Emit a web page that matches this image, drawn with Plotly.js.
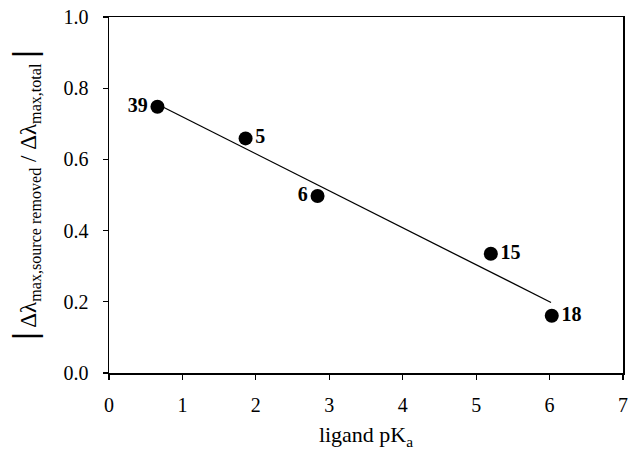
<!DOCTYPE html>
<html>
<head>
<meta charset="utf-8">
<script src="https://cdn.plot.ly/plotly-3.0.1.min.js"></script>
<style>html,body{margin:0;padding:0;background:#fff;}#chart{width:629px;height:458px;}</style>
</head>
<body>
<div id="chart"></div>
<script>
// Data
const pKa = [0.66, 1.86, 2.84, 5.20, 6.03];
const ratio = [0.748, 0.659, 0.497, 0.335, 0.161];
const pointLabels = ['39', '5', '6', '15', '18'];
const labelPos = ['middle left', 'middle right', 'middle left', 'middle right', 'middle right'];
const fitX = [0.66, 6.02];
const fitY = [0.755, 0.198];
const xTicks = [0, 1, 2, 3, 4, 5, 6, 7];
const yTicks = [0.0, 0.2, 0.4, 0.6, 0.8, 1.0];

const serif = 'Liberation Serif, Times New Roman, serif';

const traces = [
  {
    x: fitX, y: fitY, mode: 'lines', type: 'scatter',
    line: {color: '#000', width: 1.3}, hoverinfo: 'skip', showlegend: false
  },
  {
    x: pKa, y: ratio, mode: 'markers+text', type: 'scatter',
    text: pointLabels.map(t => '<b>' + t + '</b>'),
    textposition: labelPos,
    textfont: {family: serif, size: 20, color: '#000'},
    marker: {color: '#000', size: 14},
    showlegend: false
  }
];

const layout = {
  width: 629, height: 458,
  margin: {l: 109, r: 6, t: 17, b: 85},
  paper_bgcolor: '#fff', plot_bgcolor: '#fff',
  font: {family: serif, color: '#000'},
  xaxis: {
    range: [0, 7], tickvals: xTicks, ticktext: xTicks.map(String),
    showgrid: false, zeroline: false,
    showline: true, linecolor: '#000', linewidth: 1.5, mirror: true,
    ticks: 'outside', ticklen: 5, tickcolor: '#000', tickwidth: 1.2,
    ticklabelstandoff: 8,
    tickfont: {family: serif, size: 20, color: '#000'},
    title: {text: 'ligand pK<sub>a</sub>', font: {family: serif, size: 22, color: '#000'}, standoff: 12}
  },
  yaxis: {
    range: [0, 1], tickvals: yTicks, ticktext: yTicks.map(v => v.toFixed(1)),
    showgrid: false, zeroline: false,
    showline: true, linecolor: '#000', linewidth: 1.5, mirror: true,
    ticks: 'outside', ticklen: 5, tickcolor: '#000', tickwidth: 1.2,
    ticklabelstandoff: 10,
    tickfont: {family: serif, size: 20, color: '#000'},
    title: {
      text: '<span style="font-size:34px"><b>|</b></span> Δλ<sub>max,source removed</sub> / Δλ<sub>max,total</sub> <span style="font-size:34px"><b>|</b></span>',
      font: {family: serif, size: 23, color: '#000'}, standoff: 20
    }
  }
};

Plotly.newPlot('chart', traces, layout, {displayModeBar: false, staticPlot: true});
</script>
</body>
</html>
